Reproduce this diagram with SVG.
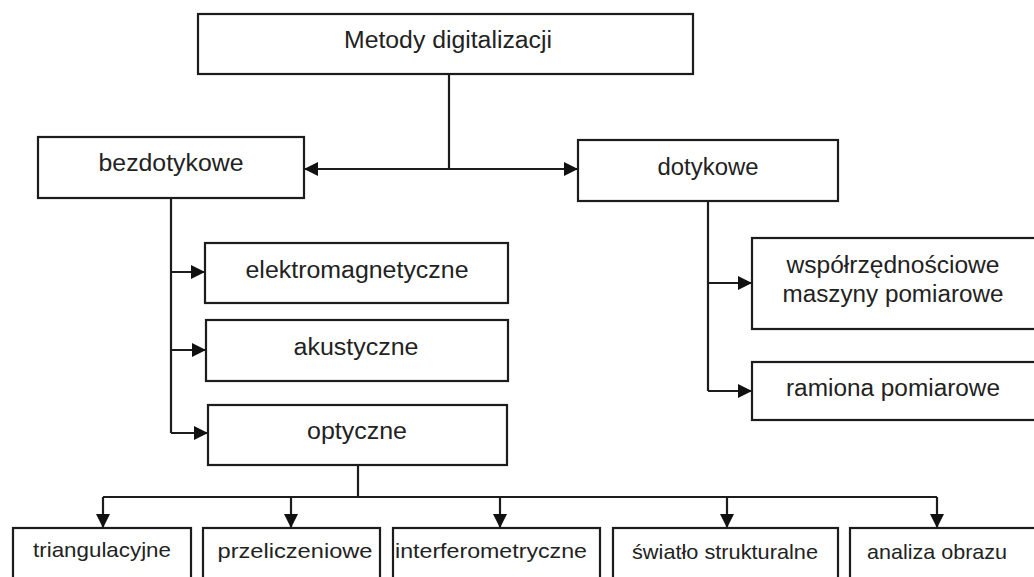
<svg xmlns="http://www.w3.org/2000/svg" width="1034" height="577" viewBox="0 0 1034 577">
  <style>
    .box { fill: #ffffff; stroke: #1c1c1c; stroke-width: 2.2; }
    .lbl { font-family: "Liberation Sans", Arial, sans-serif; font-size: 23px; fill: #222222; text-anchor: middle; }
    .sm { font-size: 21px; }
    .conn { fill: none; stroke: #1c1c1c; stroke-width: 2.2; }
  </style>
  <defs>
    <marker id="arr" viewBox="0 0 14 14" refX="14" refY="7" markerWidth="14" markerHeight="14" markerUnits="userSpaceOnUse" orient="auto">
      <path d="M0,0 L14,7 L0,14 Z" fill="#111111"/>
    </marker>
  </defs>
  <rect width="1034" height="577" fill="#ffffff"/>

  <g id="connectors">
    <path class="conn" d="M449,74 V169"/>
    <path class="conn" d="M449,169 H304" marker-end="url(#arr)"/>
    <path class="conn" d="M449,169 H578" marker-end="url(#arr)"/>
    <path class="conn" d="M171,198 V433"/>
    <path class="conn" d="M171,272 H205" marker-end="url(#arr)"/>
    <path class="conn" d="M171,350 H206" marker-end="url(#arr)"/>
    <path class="conn" d="M171,433 H208" marker-end="url(#arr)"/>
    <path class="conn" d="M708,201 V391"/>
    <path class="conn" d="M708,283 H752" marker-end="url(#arr)"/>
    <path class="conn" d="M708,391 H752" marker-end="url(#arr)"/>
    <path class="conn" d="M358,465 V497"/>
    <path class="conn" d="M103,497 H937"/>
    <path class="conn" d="M103,497 V528" marker-end="url(#arr)"/>
    <path class="conn" d="M291,497 V528" marker-end="url(#arr)"/>
    <path class="conn" d="M500,497 V528" marker-end="url(#arr)"/>
    <path class="conn" d="M727,497 V528" marker-end="url(#arr)"/>
    <path class="conn" d="M937,497 V528" marker-end="url(#arr)"/>
  </g>

  <g id="metody">
    <rect class="box" x="198" y="14" width="495" height="60"/>
    <text class="lbl" x="448" y="48" textLength="208" lengthAdjust="spacingAndGlyphs">Metody digitalizacji</text>
  </g>
  <g id="bezdotykowe">
    <rect class="box" x="38" y="137" width="266" height="61"/>
    <text class="lbl" x="171" y="171" textLength="145" lengthAdjust="spacingAndGlyphs">bezdotykowe</text>
  </g>
  <g id="dotykowe">
    <rect class="box" x="578" y="140" width="260" height="61"/>
    <text class="lbl" x="708" y="175" textLength="101" lengthAdjust="spacingAndGlyphs">dotykowe</text>
  </g>
  <g id="elektromagnetyczne">
    <rect class="box" x="205" y="243" width="303" height="60"/>
    <text class="lbl" x="357" y="278" textLength="223" lengthAdjust="spacingAndGlyphs">elektromagnetyczne</text>
  </g>
  <g id="akustyczne">
    <rect class="box" x="206" y="320" width="302" height="61"/>
    <text class="lbl" x="356" y="355" textLength="125" lengthAdjust="spacingAndGlyphs">akustyczne</text>
  </g>
  <g id="optyczne">
    <rect class="box" x="208" y="405" width="299" height="60"/>
    <text class="lbl" x="357" y="439" textLength="100" lengthAdjust="spacingAndGlyphs">optyczne</text>
  </g>
  <g id="wspolrzednosciowe">
    <rect class="box" x="752" y="238" width="300" height="91"/>
    <text class="lbl" x="893" y="273" textLength="213" lengthAdjust="spacingAndGlyphs">współrzędnościowe</text>
    <text class="lbl" x="893" y="302" textLength="221" lengthAdjust="spacingAndGlyphs">maszyny pomiarowe</text>
  </g>
  <g id="ramiona">
    <rect class="box" x="752" y="362" width="300" height="58"/>
    <text class="lbl" x="893" y="396" textLength="214" lengthAdjust="spacingAndGlyphs">ramiona pomiarowe</text>
  </g>
  <g id="triangulacyjne">
    <rect class="box" x="13" y="528" width="178" height="62"/>
    <text class="lbl sm" x="102" y="557" textLength="138" lengthAdjust="spacingAndGlyphs">triangulacyjne</text>
  </g>
  <g id="przeliczeniowe">
    <rect class="box" x="203" y="528" width="177" height="62"/>
    <text class="lbl sm" x="295" y="558" textLength="155" lengthAdjust="spacingAndGlyphs">przeliczeniowe</text>
  </g>
  <g id="interferometryczne">
    <rect class="box" x="393" y="528" width="207" height="62"/>
    <text class="lbl sm" x="491" y="558" textLength="192" lengthAdjust="spacingAndGlyphs">interferometryczne</text>
  </g>
  <g id="swiatlo">
    <rect class="box" x="613" y="528" width="225" height="62"/>
    <text class="lbl sm" x="725" y="559" textLength="186" lengthAdjust="spacingAndGlyphs">światło strukturalne</text>
  </g>
  <g id="analiza">
    <rect class="box" x="850" y="528" width="200" height="62"/>
    <text class="lbl sm" x="937" y="559" textLength="140" lengthAdjust="spacingAndGlyphs">analiza obrazu</text>
  </g>
</svg>
